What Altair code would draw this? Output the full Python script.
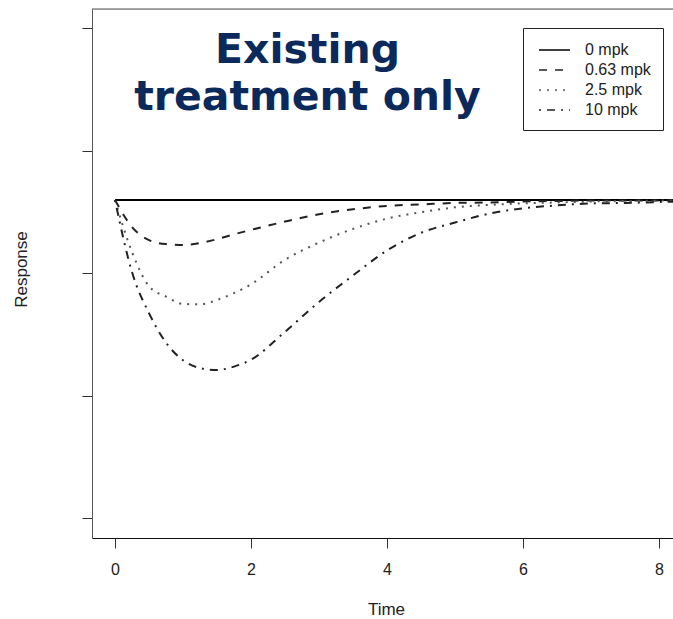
import altair as alt
import pandas as pd

# ---- data ----
times = [0, 0.25, 0.5, 0.75, 1.0, 1.25, 1.5, 1.75, 2.0, 2.5, 3.0, 3.5, 4.0,
         4.5, 5.0, 5.5, 6.0, 6.5, 7.0, 7.5, 8.3]
resp_0 = [64.9] * len(times)
resp_063 = [64.9, 59.4, 56.7, 55.9, 55.7, 56.1, 56.9, 57.9, 58.8, 60.5, 62.0,
            63.0, 63.7, 64.0, 64.3, 64.4, 64.6, 64.7, 64.8, 64.8, 64.8]
resp_25 = [64.9, 54.3, 47.3, 45.2, 43.7, 43.6, 44.5, 45.9, 47.7, 52.7, 56.2,
           59.0, 61.1, 62.4, 63.4, 63.9, 64.2, 64.4, 64.6, 64.7, 64.8]
resp_10 = [64.9, 50.2, 41.8, 35.8, 32.2, 30.6, 30.2, 30.9, 32.3, 38.0, 44.1,
           49.5, 54.6, 58.2, 60.3, 62.1, 63.2, 63.8, 64.2, 64.3, 64.6]

series_names = ["0 mpk", "0.63 mpk", "2.5 mpk", "10 mpk"]
series_values = [resp_0, resp_063, resp_25, resp_10]
series_dash = [[1, 0], [8, 8], [2, 6], [2, 6, 8, 6]]
series_color = ["#000000", "#222222", "#555555", "#222222"]

x_ticks = [0, 2, 4, 6, 8]
y_ticks = [0, 25, 50, 75, 100]
title_lines = ["Existing", "treatment only"]

rows = []
for name, vals in zip(series_names, series_values):
    for t, v in zip(times, vals):
        rows.append({"Time": t, "Response": v, "Dose": name})
df = pd.DataFrame(rows)

W, H = 581, 529
FONT = "Liberation Sans"

x_scale = alt.Scale(domain=[-0.338, 8.206], nice=False, zero=False)
y_scale = alt.Scale(domain=[-4.08, 103.88], nice=False, zero=False)

legend = alt.Legend(
    orient="none", legendX=431, legendY=19, title=None,
    symbolType="M-1.722,0H1.722", symbolSize=324, symbolStrokeWidth=1.3,
    symbolOffset=9.5, symbolFillColor="transparent",
    labelFont=FONT, labelFontSize=16, labelColor="#222222", labelOffset=20.5,
    padding=12, strokeColor="#222222", fillColor="white", rowPadding=2,
)

lines = alt.Chart(df).mark_line(clip=True, strokeWidth=2, interpolate="monotone").encode(
    x=alt.X("Time:Q", scale=x_scale,
            axis=alt.Axis(values=x_ticks, title="Time", grid=False, tickSize=10,
                          labelFont=FONT, labelFontSize=16, labelColor="#222222",
                          labelPadding=13, domainColor="#111111", tickColor="#333333",
                          titleFont=FONT, titleFontSize=17, titleFontWeight="normal",
                          titleColor="#222222", titleBaseline="alphabetic",
                          titleX=294, titleY=76, titleAnchor="middle")),
    y=alt.Y("Response:Q", scale=y_scale,
            axis=alt.Axis(values=y_ticks, labels=False, title="Response", grid=False,
                          tickSize=10, domainColor="#555555", tickColor="#333333",
                          titleFont=FONT, titleFontSize=17, titleFontWeight="normal",
                          titleColor="#222222", titleBaseline="middle",
                          titleX=-71, titleY=260, titleAngle=-90)),
    strokeDash=alt.StrokeDash("Dose:N", scale=alt.Scale(domain=series_names, range=series_dash),
                              legend=legend),
    color=alt.Color("Dose:N", scale=alt.Scale(domain=series_names, range=series_color),
                    legend=legend),
    detail="Dose:N",
)

top_border = alt.Chart(pd.DataFrame({"a": [0]})).mark_rule(color="#555555", strokeWidth=1.2).encode(
    x=alt.value(0), x2=alt.value(W), y=alt.value(0)
)

title_text = alt.Chart(pd.DataFrame({"t": [title_lines]})).mark_text(
    font="DejaVu Sans", fontSize=41, fontWeight="bold", color="#0b2a5b",
    align="center", baseline="alphabetic", lineHeight=47
).encode(
    x=alt.value(215.5), y=alt.value(54), text="t"
)

chart = alt.layer(lines, top_border, title_text).properties(
    width=W, height=H,
    autosize=alt.AutoSizeParams(type="none"),
    padding={"left": 92, "top": 9, "right": 0, "bottom": 81},
).configure_view(stroke=None).configure(background="white")

chart.save("out.html", embed_options={"renderer": "svg", "actions": False})
